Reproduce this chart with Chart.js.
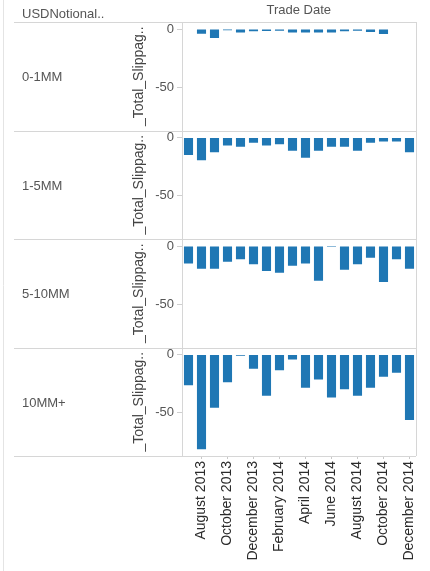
<!DOCTYPE html>
<html>
<head>
<meta charset="utf-8">
<script src="https://cdn.jsdelivr.net/npm/chart.js@4/dist/chart.umd.min.js"></script>
<style>
  html, body { margin: 0; padding: 0; background: #fff; }
  #wrap { position: relative; width: 430px; height: 571px; overflow: hidden; }
  canvas { position: absolute; left: 0; top: 0; }
  .lbl { position: absolute; font-family: 'Liberation Sans', Arial, sans-serif; font-size: 13px; line-height: 16px; color: #555; white-space: nowrap; }
</style>
</head>
<body>
<div id="wrap">
  <canvas id="c" width="430" height="571"></canvas>
  <div class="lbl" id="hdr" style="left:22px;top:6px;">USDNotional..</div>
  <div class="lbl" id="tradeDate" style="top:2px;">Trade Date</div>
</div>
<script>
// ---- data ----
const months = ['July 2013','August 2013','September 2013','October 2013','November 2013','December 2013',
  'January 2014','February 2014','March 2014','April 2014','May 2014','June 2014',
  'July 2014','August 2014','September 2014','October 2014','November 2014','December 2014'];
const rowLabels = ['0-1MM', '1-5MM', '5-10MM', '10MM+'];
const slip0to1   = [-0.4, -4.0, -7.7, -1.1, -2.9, -2.0, -1.7, -1.4, -3.1, -2.9, -2.9, -2.9, -2.0, -1.4, -2.6, -4.3, -0.5, -0.5];
const slip1to5   = [-14.9, -19.4, -12.6, -6.9, -8.0, -4.6, -6.9, -5.7, -11.4, -17.4, -11.4, -8.0, -8.0, -11.4, -4.6, -3.4, -3.4, -12.6];
const slip5to10  = [-14.9, -19.4, -19.4, -13.4, -11.4, -15.7, -21.4, -22.9, -16.9, -14.9, -29.7, -0.9, -20.3, -15.7, -10.0, -30.9, -11.4, -19.4];
const slip10plus = [-26.3, -81.3, -45.7, -23.7, -1.0, -12.3, -35.4, -13.4, -4.3, -28.5, -21.4, -36.8, -29.7, -35.4, -28.5, -19.1, -15.7, -56.2];
const yTickValues = [0, -50];
const yAxisTitle = '_Total_Slippag..';

const seriesList = [slip0to1, slip1to5, slip5to10, slip10plus];
const FONT = "'Liberation Sans', Arial, sans-serif";
const BAR = '#1f77b4';
const LINE = '#d6d6d6';

const wrap = document.getElementById('wrap');
const rowDivs = rowLabels.map(t => {
  const d = document.createElement('div');
  d.className = 'lbl';
  d.textContent = t;
  d.style.left = '22px';
  wrap.appendChild(d);
  return d;
});

const scales = {
  x: {
    type: 'category',
    labels: months,
    offset: true,
    grid: {
      offset: false,
      drawOnChartArea: false,
      tickLength: 3,
      color: ctx => (ctx.index % 2 === 1 ? '#c8c8c8' : 'rgba(0,0,0,0)')
    },
    border: { display: false },
    ticks: {
      autoSkip: false,
      maxRotation: 90,
      minRotation: 90,
      padding: 2,
      color: '#2b2b2b',
      font: { family: FONT, size: 14 },
      callback: (v, i) => (i % 2 === 1 ? months[i] : '')
    },
    afterFit: s => { s.height = 115; }
  }
};
seriesList.forEach((s, i) => {
  scales['y' + i] = {
    type: 'linear',
    position: 'left',
    stack: 'rows',
    stackWeight: 1,
    weight: 10 - i,
    min: -87,
    max: 6,
    afterBuildTicks: sc => { sc.ticks = yTickValues.map(v => ({ value: v })); },
    afterFit: sc => { sc.width = 54; },
    grid: { drawOnChartArea: false, drawTicks: true, tickLength: 5, color: '#cfcfcf' },
    border: { display: true, color: LINE },
    ticks: { color: '#555', padding: 3, font: { family: FONT, size: 13 } },
    title: { display: true, text: yAxisTitle, color: '#444', padding: { top: 3, bottom: 0 }, font: { family: FONT, size: 14 } }
  };
});

const decor = {
  id: 'decor',
  afterDraw(chart) {
    const ctx = chart.ctx, a = chart.chartArea;
    ctx.save();
    ctx.lineWidth = 1;
    ctx.strokeStyle = '#e4e4e4';
    ctx.beginPath(); ctx.moveTo(3.5, 0); ctx.lineTo(3.5, 571); ctx.stroke();
    ctx.strokeStyle = LINE;
    const ys = [];
    seriesList.forEach((s, i) => { const sc = chart.scales['y' + i]; ys.push(sc.top, sc.bottom); });
    ys.forEach(y => {
      const yy = Math.round(y) + 0.5;
      ctx.beginPath(); ctx.moveTo(14, yy); ctx.lineTo(a.right, yy); ctx.stroke();
    });
    ctx.beginPath(); ctx.moveTo(Math.round(a.right) + 0.5, a.top); ctx.lineTo(Math.round(a.right) + 0.5, a.bottom); ctx.stroke();
    ctx.restore();
  },
  afterLayout(chart) {
    const a = chart.chartArea;
    seriesList.forEach((s, i) => {
      const sc = chart.scales['y' + i];
      rowDivs[i].style.top = ((sc.top + sc.bottom) / 2 - 7) + 'px';
    });
    const td = document.getElementById('tradeDate');
    td.style.left = ((a.left + a.right) / 2 - td.offsetWidth / 2) + 'px';
  }
};

new Chart(document.getElementById('c'), {
  type: 'bar',
  data: {
    labels: months,
    datasets: seriesList.map((s, i) => ({
      label: rowLabels[i],
      data: s,
      yAxisID: 'y' + i,
      xAxisID: 'x',
      backgroundColor: BAR,
      borderWidth: 0,
      barPercentage: 0.7,
      categoryPercentage: 1,
      grouped: false
    }))
  },
  options: {
    responsive: false,
    animation: false,
    layout: { padding: { left: 128, top: 22, right: 14, bottom: 0 } },
    plugins: { legend: { display: false }, tooltip: { enabled: false } },
    scales: scales
  },
  plugins: [decor]
});
</script>
</body>
</html>
